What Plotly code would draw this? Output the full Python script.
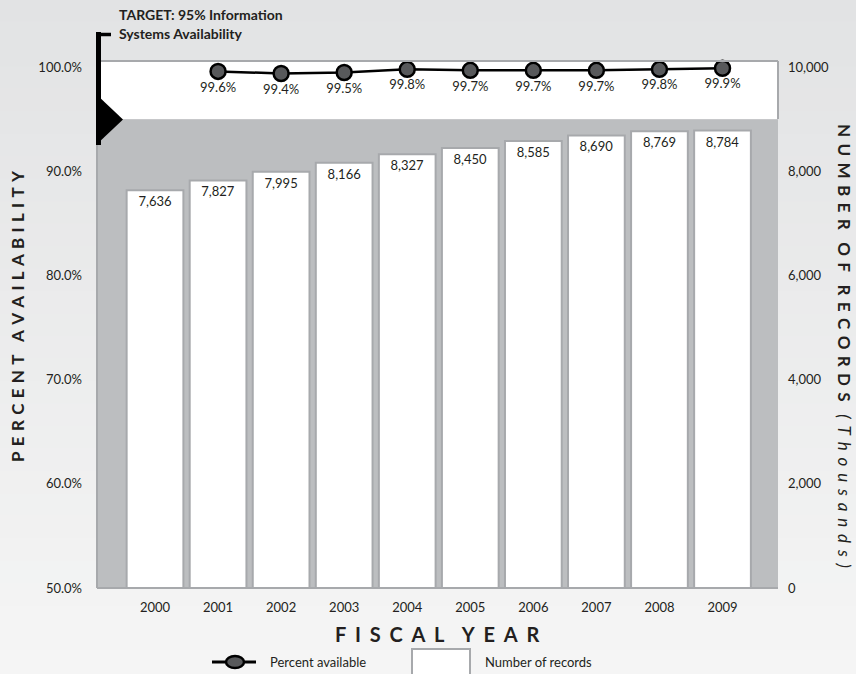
import plotly.graph_objects as go

# ---------------- data ----------------
years = [2000, 2001, 2002, 2003, 2004, 2005, 2006, 2007, 2008, 2009]
records = [7636, 7827, 7995, 8166, 8327, 8450, 8585, 8690, 8769, 8784]
percent = [None, 99.6, 99.4, 99.5, 99.8, 99.7, 99.7, 99.7, 99.8, 99.9]
left_ticks = [50, 60, 70, 80, 90, 100]
left_labels = ["50.0%", "60.0%", "70.0%", "80.0%", "90.0%", "100.0%"]
right_ticks = [0, 2000, 4000, 6000, 8000, 10000]
right_labels = ["0", "2,000", "4,000", "6,000", "8,000", "10,000"]
target = 95

# ---------------- layout helpers ----------------
W, H = 856, 674
L, R, T, B = 97, 778, 61, 588
FONT = "Lato, 'Open Sans', sans-serif"
DARK = "#231f20"
BORDER = "#a7a9ac"
TH = "\u2009"
HA = "\u200a"


def px(x):
    return (x - L) / (R - L)


def py(y):
    return (B - y) / (B - T)


def track(s, sep=TH + TH + HA):
    return sep.join(s)


fig = go.Figure()

fig.add_trace(go.Bar(
    x=years, y=records, yaxis="y2", width=0.9,
    marker=dict(color="white", line=dict(color=BORDER, width=2)),
    text=[f"{v:,}" for v in records], textposition="inside",
    insidetextanchor="end", textangle=0,
    insidetextfont=dict(family=FONT, size=13, color=DARK),
    showlegend=False, hoverinfo="skip",
))

fig.add_trace(go.Scatter(
    x=years, y=percent, yaxis="y", mode="lines+markers+text",
    line=dict(color="black", width=2.5),
    marker=dict(size=15, color="#58595b", line=dict(color="black", width=2.5)),
    text=[f"{p:.1f}%" if p is not None else "" for p in percent],
    textposition="bottom center",
    textfont=dict(family=FONT, size=13, color=DARK),
    cliponaxis=False, showlegend=False, hoverinfo="skip",
))

shapes = []
# background gradient
N = 30
c0 = (0xe2, 0xe3, 0xe4)
c1 = (0xf5, 0xf5, 0xf5)
for i in range(N):
    t = i / (N - 1)
    c = tuple(round(c0[k] + (c1[k] - c0[k]) * t) for k in range(3))
    y_top = i * H / N - 1
    y_bot = (i + 1) * H / N + 1
    shapes.append(dict(type="rect", xref="paper", yref="paper", layer="below",
                       x0=px(-2), x1=px(W + 2), y0=py(y_bot), y1=py(y_top),
                       line=dict(width=0), fillcolor="rgb(%d,%d,%d)" % c))
# plot bands
shapes.append(dict(type="rect", xref="x domain", yref="y", layer="below",
                   x0=0, x1=1, y0=50, y1=target, line=dict(width=0), fillcolor="#bcbec0"))
shapes.append(dict(type="rect", xref="x domain", yref="paper", layer="below",
                   x0=0, x1=1, y0=py(119), y1=1, line=dict(width=0), fillcolor="white"))
# borders
for (x0, y0, x1, y1) in [(L, T, L, B), (L, T, R, T), (R, T, R, 119), (L, B, R, B)]:
    shapes.append(dict(type="line", xref="paper", yref="paper",
                       x0=px(x0), y0=py(y0), x1=px(x1), y1=py(y1),
                       line=dict(color=BORDER, width=2)))
# target bracket
shapes.append(dict(type="line", xref="paper", yref="paper",
                   x0=px(98.5), y0=py(32), x1=px(98.5), y1=py(145),
                   line=dict(color="black", width=5)))
shapes.append(dict(type="line", xref="paper", yref="paper",
                   x0=px(96), y0=py(34.5), x1=px(111), y1=py(34.5),
                   line=dict(color="black", width=3.5)))
tri = "M %f,%f L %f,%f L %f,%f Z" % (px(96), py(94), px(123), py(119.5), px(96), py(145))
shapes.append(dict(type="path", xref="paper", yref="paper", path=tri,
                   fillcolor="black", line=dict(color="black", width=0)))
# legend symbols
shapes.append(dict(type="line", xref="paper", yref="paper",
                   x0=px(212), y0=py(662), x1=px(256), y1=py(662),
                   line=dict(color="black", width=3)))
shapes.append(dict(type="circle", xref="paper", yref="paper",
                   x0=px(226), y0=py(668), x1=px(244), y1=py(656),
                   fillcolor="#58595b", line=dict(color="black", width=2.5)))
shapes.append(dict(type="rect", xref="paper", yref="paper",
                   x0=px(412), y0=py(690), x1=px(470), y1=py(649),
                   fillcolor="white", line=dict(color=BORDER, width=2)))

WG = TH + TH + " " + TH + TH
S3 = TH + TH + TH
annotations = [
    dict(text="TARGET: 95% Information", x=px(117), y=py(14), xref="paper", yref="paper",
         xanchor="left", yanchor="middle", showarrow=False,
         font=dict(family=FONT, size=14, color=DARK, weight="bold")),
    dict(text="Systems Availability", x=px(117), y=py(34), xref="paper", yref="paper",
         xanchor="left", yanchor="middle", showarrow=False,
         font=dict(family=FONT, size=14, color=DARK, weight="bold")),
    dict(text=track("PERCENT") + WG + track("AVAILABILITY"),
         x=px(17), y=py(316), xref="paper", yref="paper", textangle=-90,
         xanchor="center", yanchor="middle", showarrow=False,
         font=dict(family=FONT, size=17, color=DARK, weight="bold")),
    dict(text=track("NUMBER", S3) + WG + track("OF", S3) + WG + track("RECORDS", S3) + WG
         + "<span style='font-weight:normal'><i>" + track("(Thousands)", S3 + HA) + "</i></span>",
         x=px(845), y=py(346), xref="paper", yref="paper", textangle=90,
         xanchor="center", yanchor="middle", showarrow=False,
         font=dict(family=FONT, size=17, color=DARK, weight="bold")),
    dict(text=track("FISCAL", S3 + HA) + WG + TH + track("YEAR", S3 + HA),
         x=px(437), y=py(634), xref="paper", yref="paper",
         xanchor="center", yanchor="middle", showarrow=False,
         font=dict(family=FONT, size=20, color=DARK, weight="bold")),
    dict(text="Percent available", x=px(268), y=py(662), xref="paper", yref="paper",
         xanchor="left", yanchor="middle", showarrow=False,
         font=dict(family=FONT, size=13, color=DARK)),
    dict(text="Number of records", x=px(483), y=py(662), xref="paper", yref="paper",
         xanchor="left", yanchor="middle", showarrow=False,
         font=dict(family=FONT, size=13, color=DARK)),
]

fig.update_layout(
    width=W, height=H,
    margin=dict(l=L, r=W - R, t=T, b=H - B, pad=0),
    paper_bgcolor="#ebebec", plot_bgcolor="rgba(0,0,0,0)",
    font=dict(family=FONT, size=13, color=DARK),
    shapes=shapes, annotations=annotations, showlegend=False,
    xaxis=dict(range=[1999.08, 2009.88], tickvals=years, ticktext=[str(y) for y in years],
               showgrid=False, zeroline=False, showline=False, ticks="",
               ticklabelstandoff=10, tickfont=dict(family=FONT, size=13, color=DARK)),
    yaxis=dict(range=[50, 100.6], tickvals=left_ticks, ticktext=left_labels,
               showgrid=False, zeroline=False, showline=False, ticks="",
               ticklabelstandoff=14, tickfont=dict(family=FONT, size=13, color=DARK)),
    yaxis2=dict(range=[0, 10120], tickvals=right_ticks, ticktext=right_labels, side="right",
                overlaying="y", showgrid=False, zeroline=False, showline=False, ticks="",
                ticklabelstandoff=9, tickfont=dict(family=FONT, size=13, color=DARK)),
    bargap=0.1,
)

fig.write_html("out.html", config={"displayModeBar": False},
               post_script="document.body.style.margin='0';document.body.style.overflow='hidden';")
